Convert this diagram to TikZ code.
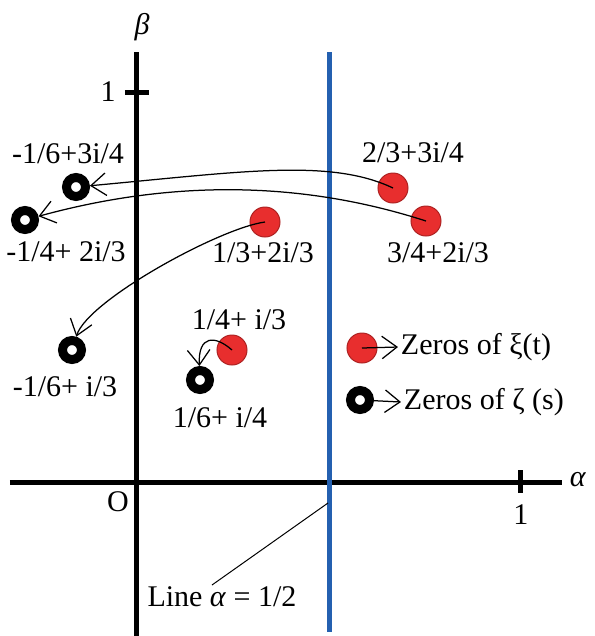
\documentclass[tikz,border=0pt]{standalone}
\usepackage{fontspec}
\setmainfont{Liberation Serif}
\usetikzlibrary{arrows.meta}
\definecolor{zRed}{RGB}{232,46,46}
\definecolor{zBlue}{RGB}{36,96,176}

\begin{document}
\begin{tikzpicture}[
			x=0.4pt,y=-0.4pt,
			font=\fontsize{12}{14}\selectfont,
			axis/.style={line width=2pt,draw=black},
			xiPt/.style={circle,fill=zRed,draw=zRed!75!black,line width=0.4pt,minimum size=12pt,inner sep=0pt},
			zetaPt/.style={circle,fill=white,draw=black,line width=3.6pt,minimum size=7.6pt,inner sep=0pt},
			lbl/.style={inner sep=1pt},
			arr/.style={-{Straight Barb[length=6pt,width=9pt]},line width=0.5pt}
			]
			\useasboundingbox (0,0) rectangle (595,636);
			% axes
			\draw[axis] (10,482) -- (562,482);
			\draw[axis] (137,52) -- (137,636);
			\draw[axis] (521,470) -- (521,493);
			\draw[axis] (125,92) -- (149,92);
			\node[lbl](alpha) at (578,480){\textit{α}};
			\node[lbl](beta) at (142,27){\textit{β}};
			\node[lbl](one x) at (521,515){1};
			\node[lbl](one y) at (108,92){1};
			\node[lbl](origin) at (118,502){O};
			% critical line
			\draw[line width=2pt,draw=zBlue] (330,52) -- (330,632);
			\node[lbl](line lbl) at (222,597){Line \textit{α} = 1/2};
			\coordinate (on line) at (328,503);
			\draw[line width=0.4pt] (212,585) -- (on line);
			% zeros
			\node[xiPt](xi a) at (393,188){};
			\node[xiPt](xi b) at (426,221){};
			\node[xiPt](xi c) at (265,222){};
			\node[xiPt](xi d) at (232,350){};
			\node[zetaPt](zeta a) at (76,187){};
			\node[zetaPt](zeta b) at (25,220){};
			\node[zetaPt](zeta c) at (72,350){};
			\node[zetaPt](zeta d) at (200,380){};
			\node[lbl] at (413,153){2/3+3i/4};
			\node[lbl] at (438,253){3/4+2i/3};
			\node[lbl] at (263,253){1/3+2i/3};
			\node[lbl] at (239,320){1/4+ i/3};
			\node[lbl] at (68,154){-1/6+3i/4};
			\node[lbl] at (66,252){-1/4+ 2i/3};
			\node[lbl] at (65,387){-1/6+ i/3};
			\node[lbl] at (220,418){1/6+ i/4};
			% maps
			\draw[arr] (xi a.center) .. controls (330,158) and (240,172) .. (zeta a);
			\draw[arr] (xi b.center) .. controls (330,190) and (200,172) .. (zeta b);
			\draw[arr] (xi c.center) .. controls (220,228) and (88,300) .. (zeta c);
			\draw[arr] (xi d.center) .. controls (215,335) and (198,335) .. (zeta d);
			% legend
			\node[xiPt](key xi) at (362,348){};
			\node[zetaPt](key zeta) at (360,400){};
			\node[lbl,anchor=west](key xi txt) at (398,347){Zeros of ξ(t)};
			\node[lbl,anchor=west](key zeta txt) at (401,402){Zeros of ζ (s)};
			\draw[arr] (key xi.center) -- (key xi txt.west);
			\draw[arr] (key zeta) -- (key zeta txt.west);
		\end{tikzpicture}
\end{document}
